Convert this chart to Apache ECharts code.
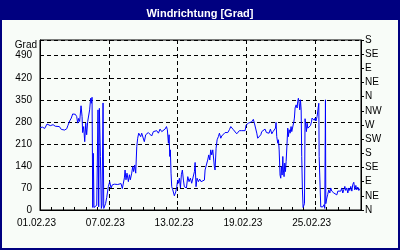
<!DOCTYPE html>
<html>
<head>
<meta charset="utf-8">
<script src="https://cdn.jsdelivr.net/npm/echarts@6/dist/echarts.min.js"></script>
<style>html,body{margin:0;padding:0;background:#000080;}#c{width:400px;height:250px;}</style>
</head>
<body>
<div id="c"></div>
<script>
var titleText = 'Windrichtung [Grad]';
var yAxisName = 'Grad';
var dateLabels = ['01.02.23', '07.02.23', '13.02.23', '19.02.23', '25.02.23'];
var compassLabels = ['N', 'NE', 'E', 'SE', 'S', 'SW', 'W', 'NW', 'N', 'NE', 'E', 'SE', 'S'];
// [day offset from 01.02.23 00:00, wind direction in degrees]
var windDirection = [
[0.00,262],[0.06,262],[0.23,263],[0.41,259],[0.50,254],[0.61,273],[0.76,276],[0.90,268],[1.14,271],[1.34,266],
[1.51,269],[1.69,265],[1.80,271],[1.86,256],[2.15,254],[2.33,258],[2.44,269],[2.59,283],[2.73,292],[2.85,305],
[2.97,301],[3.08,304],[3.20,297],[3.29,276],[3.37,291],[3.46,281],[3.58,331],[3.67,297],[3.72,246],[3.81,265],
[3.90,217],[3.99,276],[4.07,239],[4.16,281],[4.25,284],[4.33,318],[4.42,355],[4.48,339],[4.54,358],[4.60,8],
[4.65,180],[4.71,8],[4.83,12],[4.95,15],[5.00,10],[5.06,318],[5.12,10],[5.18,323],[5.27,170],[5.35,5],
[5.41,15],[5.50,340],[5.56,5],[5.64,8],[5.72,20],[5.82,40],[5.96,74],[6.08,90],[6.20,70],[6.31,80],
[6.49,82],[6.63,76],[6.78,81],[6.92,77],[7.07,84],[7.18,68],[7.27,74],[7.36,102],[7.42,127],[7.50,96],
[7.59,117],[7.71,90],[7.80,112],[7.88,96],[8.00,117],[8.09,138],[8.17,122],[8.26,143],[8.35,117],[8.44,201],
[8.52,228],[8.61,244],[8.70,244],[8.78,233],[8.87,244],[9.02,239],[9.10,217],[9.22,239],[9.34,233],[9.45,246],
[9.60,249],[9.74,235],[9.89,249],[10.04,255],[10.18,252],[10.33,244],[10.47,257],[10.62,249],[10.76,244],[10.91,257],
[11.03,265],[11.11,255],[11.20,212],[11.26,239],[11.32,170],[11.37,191],[11.43,117],[11.49,74],[11.58,64],[11.66,70],
[11.72,45],[11.84,58],[11.93,74],[12.01,95],[12.07,85],[12.16,101],[12.25,70],[12.33,112],[12.42,127],[12.51,95],
[12.59,74],[12.68,80],[12.77,70],[12.89,106],[13.00,90],[13.12,101],[13.23,85],[13.38,90],[13.47,122],[13.53,151],
[13.61,74],[13.70,101],[13.82,90],[13.93,98],[14.05,90],[14.19,95],[14.34,95],[14.40,127],[14.51,143],[14.63,159],
[14.72,175],[14.81,159],[14.89,191],[14.98,175],[15.07,191],[15.15,196],[15.21,138],[15.27,127],[15.36,196],[15.45,223],
[15.47,228],[15.56,233],[15.65,244],[15.77,228],[15.85,235],[16.00,239],[16.14,246],[16.38,246],[16.52,255],[16.64,265],
[16.73,260],[16.87,255],[17.02,249],[17.16,242],[17.25,246],[17.39,252],[17.60,252],[17.74,251],[17.89,252],[17.98,270],
[18.06,265],[18.18,276],[18.30,270],[18.47,280],[18.61,288],[18.70,276],[18.82,280],[18.91,244],[18.99,228],[19.11,233],
[19.26,239],[19.34,249],[19.49,244],[19.63,257],[19.75,246],[19.87,249],[19.98,244],[20.10,257],[20.22,242],[20.33,249],
[20.45,244],[20.54,260],[20.59,278],[20.65,233],[20.74,212],[20.80,223],[20.86,191],[20.90,191],[20.94,111],[21.00,101],
[21.06,138],[21.12,111],[21.18,170],[21.23,127],[21.29,106],[21.35,149],[21.41,122],[21.47,154],[21.55,212],[21.61,260],
[21.67,233],[21.73,255],[21.82,244],[21.90,265],[21.96,249],[22.05,255],[22.14,280],[22.19,292],[22.25,324],[22.34,334],
[22.43,324],[22.48,345],[22.54,355],[22.60,339],[22.66,318],[22.72,350],[22.78,318],[22.83,170],[22.89,64],[22.95,8],
[23.01,3],[23.07,20],[23.12,290],[23.18,270],[23.24,249],[23.30,276],[23.36,260],[23.47,260],[23.59,268],[23.68,280],
[23.73,292],[23.82,297],[23.91,285],[24.00,292],[24.08,283],[24.17,297],[24.26,292],[24.32,339],[24.35,170],[24.43,170],
[24.49,10],[24.58,15],[24.67,10],[24.78,17],[24.84,5],[24.90,350],[24.93,20],[25.02,38],[25.10,50],[25.19,64],
[25.28,54],[25.36,70],[25.45,60],[25.54,64],[25.63,54],[25.71,60],[25.80,54],[25.89,48],[25.98,60],[26.06,56],
[26.15,64],[26.24,60],[26.32,70],[26.41,54],[26.50,64],[26.59,75],[26.67,62],[26.76,70],[26.85,54],[26.94,70],
[27.02,62],[27.11,75],[27.20,60],[27.28,81],[27.37,88],[27.46,64],[27.55,78],[27.63,64],[27.72,73],[27.81,62],
[27.90,68]
];

var FONT = '"Liberation Sans", Arial, sans-serif';
var chart = echarts.init(document.getElementById('c'), null, {renderer: 'canvas'});
chart.setOption({
  backgroundColor: '#000080',
  animation: false,
  title: {
    text: titleText, left: 'center', top: 3,
    textStyle: {color: '#ffffff', fontWeight: 'bold', fontSize: 11, fontFamily: FONT}
  },
  graphic: [
    {type: 'rect', z: -10, silent: true, shape: {x: 2, y: 20, width: 396, height: 228}, style: {fill: '#f8fcf8'}},
    {type: 'text', silent: true, x: 37, y: 45, style: {text: yAxisName, align: 'right', verticalAlign: 'middle', fontSize: 10, fontFamily: FONT, fill: '#000'}}
  ],
  grid: {left: 40, right: 39, top: 40, bottom: 40, show: true, borderColor: '#000', borderWidth: 1, backgroundColor: 'transparent'},
  xAxis: {
    type: 'value', min: 0, max: 28, interval: 6,
    axisLine: {show: true, lineStyle: {color: '#000', width: 1}},
    axisTick: {show: true, inside: true, length: 3, lineStyle: {color: '#000'}},
    minorTick: {show: true, splitNumber: 6, length: 3, lineStyle: {color: '#000'}},
    axisLabel: {
      margin: 8, color: '#000', fontSize: 10, fontFamily: FONT, padding: [0, 7, 0, 0],
      formatter: function (v) { var i = Math.round(v / 6); return (v % 6 === 0 && dateLabels[i]) ? dateLabels[i] : ''; }
    },
    splitLine: {show: true, lineStyle: {color: '#000', type: [4, 3], width: 1}}
  },
  yAxis: [
    {
      type: 'value', min: 0, max: 540, interval: 70, position: 'left',
      axisLine: {show: true, lineStyle: {color: '#000'}},
      axisTick: {show: false},
      axisLabel: {margin: 8, color: '#000', fontSize: 10, fontFamily: FONT,
        formatter: function (v) { return (v % 70 === 0 && v <= 490) ? String(v) : ''; }},
      splitLine: {show: true, lineStyle: {color: '#000', type: [4, 3], width: 1}}
    },
    {
      type: 'value', min: 0, max: 540, interval: 45, position: 'right',
      axisLine: {show: true, lineStyle: {color: '#000'}},
      axisTick: {show: true, inside: false, length: 3, lineStyle: {color: '#000'}},
      axisLabel: {margin: 4, color: '#000', fontSize: 10, fontFamily: FONT,
        formatter: function (v) { return compassLabels[Math.round(v / 45)] || ''; }},
      splitLine: {show: false}
    }
  ],
  series: [{
    type: 'line', yAxisIndex: 0, data: windDirection, showSymbol: false, symbol: 'none',
    lineStyle: {color: '#0000ff', width: 1}, z: 5
  }]
});
</script>
</body>
</html>
